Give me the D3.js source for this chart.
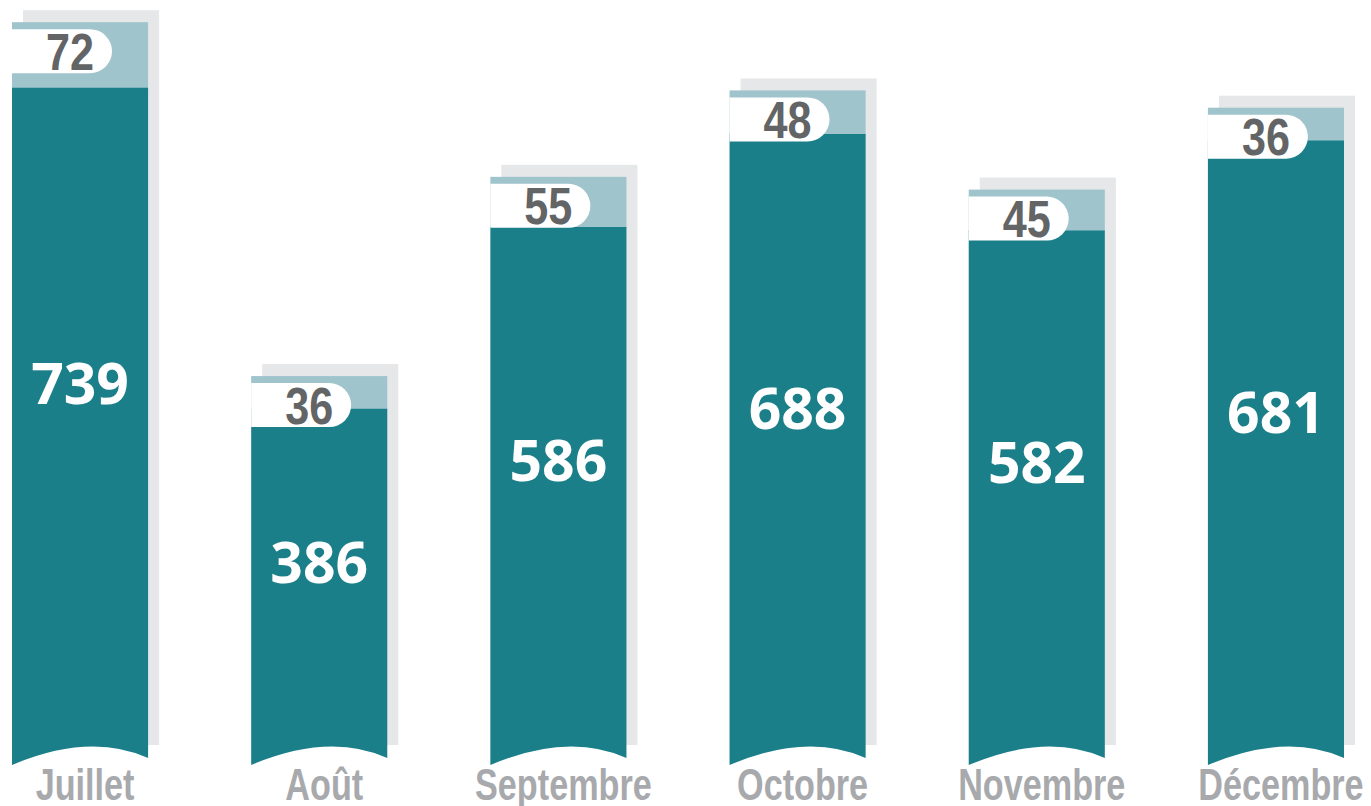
<!DOCTYPE html>
<html lang="fr">
<head>
<meta charset="UTF-8">
<title>Juillet - Décembre</title>
<script src="https://d3js.org/d3.v7.min.js"></script>
<style>
  html, body { margin: 0; padding: 0; background: #fff; }
  svg { display: block; }
  .month { font-family: "Liberation Sans", Arial, sans-serif; font-weight: 700; font-size: 45px; fill: #a7a9ac; }
  .small-val { font-family: "Liberation Sans", Arial, sans-serif; font-weight: 700; font-size: 52px; fill: #636466; }
  .big-val { font-family: "Open Sans", sans-serif; font-weight: 700; font-size: 57px; fill: #fff; }
</style>
</head>
<body>
<div id="chart"></div>
<script>
// data
const months = ["Juillet", "Août", "Septembre", "Octobre", "Novembre", "Décembre"];
const mainValues = [739, 386, 586, 688, 582, 681];
const topValues = [72, 36, 55, 48, 45, 36];

const width = 1371, height = 806;
const teal = "#1b7f8a", light = "#9fc4cc", shadow = "#e6e7e8";
// the original uses a condensed bold face, so squeeze the text horizontally
const condense = 0.76;

const svg = d3.select("#chart").append("svg")
  .attr("width", width)
  .attr("height", height);

const x = d3.scaleBand()
  .domain(months)
  .range([12, 1344])
  .paddingInner(0.431)
  .paddingOuter(0);

const y = d3.scaleLinear()
  .domain([0, 820])
  .range([760, 14]);

const bw = x.bandwidth();
const rows = months.map((m, i) => ({
  month: m, main: mainValues[i], top: topValues[i],
  x0: x(m), total: mainValues[i] + topValues[i]
}));

// grey shadow behind each bar
svg.selectAll(".shadow")
  .data(rows)
  .enter().append("rect")
  .attr("class", "shadow")
  .attr("x", d => d.x0 + 11)
  .attr("y", d => y(d.total) - 12)
  .attr("width", bw)
  .attr("height", d => 745 - (y(d.total) - 12))
  .attr("fill", shadow);

// bar with curved bottom edge
function barPath(x0, yTop) {
  const x1 = x0 + bw;
  return `M${x0},${yTop} L${x1},${yTop} L${x1},758 ` +
    `Q${x0 + bw / 2 + 10},732 ${x0},765 Z`;
}

svg.selectAll(".bar-top")
  .data(rows)
  .enter().append("rect")
  .attr("class", "bar-top")
  .attr("x", d => d.x0)
  .attr("y", d => y(d.total))
  .attr("width", bw)
  .attr("height", d => y(d.main) - y(d.total) + 1)
  .attr("fill", light);

svg.selectAll(".bar")
  .data(rows)
  .enter().append("path")
  .attr("class", "bar")
  .attr("d", d => barPath(d.x0, y(d.main)))
  .attr("fill", teal);

// white pill with the small value
const pillW = 100, pillH = 44, r = 22;
function pillPath(x0, cy) {
  const t = cy - pillH / 2, b = cy + pillH / 2, xr = x0 + pillW;
  return `M${x0},${t} L${xr - r},${t} A${r},${r} 0 0 1 ${xr - r},${b} L${x0},${b} Z`;
}
const pillY = d => y(d.total) + 29;

svg.selectAll(".pill")
  .data(rows)
  .enter().append("path")
  .attr("class", "pill")
  .attr("d", d => pillPath(d.x0, pillY(d)))
  .attr("fill", "#fff");

svg.selectAll(".small-val")
  .data(rows)
  .enter().append("text")
  .attr("class", "small-val")
  .attr("transform", d => `translate(${d.x0 + 58},${pillY(d) + 18.5}) scale(0.83,1)`)
  .attr("text-anchor", "middle")
  .text(d => d.top);

svg.selectAll(".big-val")
  .data(rows)
  .enter().append("text")
  .attr("class", "big-val")
  .attr("x", d => d.x0 + bw / 2)
  .attr("y", d => y(d.main * 0.56) + 20)
  .attr("text-anchor", "middle")
  .text(d => d.main);

svg.selectAll(".month")
  .data(rows)
  .enter().append("text")
  .attr("class", "month")
  .attr("transform", d => `translate(${d.x0 + bw / 2 + 5},800) scale(${condense},1)`)
  .attr("text-anchor", "middle")
  .text(d => d.month);
</script>
</body>
</html>
